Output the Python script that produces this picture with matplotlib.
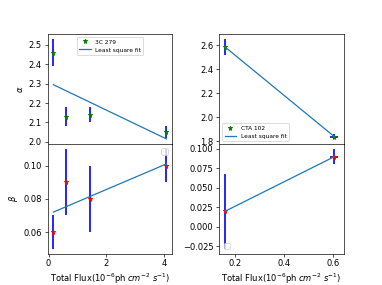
import matplotlib
matplotlib.use("Agg")
import matplotlib.pyplot as plt

# 3C 279
x_3c = [0.17, 0.62, 1.45, 4.09]
alpha_3c = [2.46, 2.13, 2.14, 2.05]
alpha_err_3c = [0.07, 0.05, 0.04, 0.03]
beta_3c = [0.06, 0.09, 0.08, 0.10]
beta_err_3c = [0.01, 0.02, 0.02, 0.01]
fit_x_3c = [0.17, 4.09]
fit_alpha_3c = [2.295, 2.015]
fit_beta_3c = [0.072, 0.101]

# CTA 102
x_cta = [0.16, 0.605]
x_err_cta = [0.0, 0.016]
alpha_cta = [2.585, 1.84]
alpha_err_cta = [0.065, 0.02]
beta_cta = [0.02, 0.09]
beta_err_cta = [0.048, 0.01]
fit_alpha_cta = [2.585, 1.84]
fit_beta_cta = [0.02, 0.09]

xlabel = r'Total Flux($10^{-6}$ph $cm^{-2}$ $s^{-1}$)'

fig, axes = plt.subplots(2, 2, sharex='col', figsize=(382/60, 285/60), dpi=60)
fig.subplots_adjust(hspace=0, wspace=0.38)

ax = axes[0, 0]
ax.errorbar(x_3c, alpha_3c, yerr=alpha_err_3c, fmt='none', ecolor='b', elinewidth=2)
ax.plot(x_3c, alpha_3c, 'g*', label='3C 279')
ax.plot(fit_x_3c, fit_alpha_3c, label='Least square fit')
ax.set_ylabel(r'$\alpha$')
ax.legend(loc='upper center', fontsize=7)

ax = axes[1, 0]
ax.errorbar(x_3c, beta_3c, yerr=beta_err_3c, fmt='none', ecolor='b', elinewidth=2)
ax.plot(x_3c, beta_3c, 'r*')
ax.plot(fit_x_3c, fit_beta_3c)
ax.set_ylabel(r'$\beta$')
ax.set_xlabel(xlabel)
ax.legend(handles=[], loc='upper right')

ax = axes[0, 1]
ax.errorbar(x_cta, alpha_cta, yerr=alpha_err_cta, xerr=x_err_cta, fmt='none', ecolor='b', elinewidth=2)
ax.plot(x_cta, alpha_cta, 'g*', label='CTA 102')
ax.plot(x_cta, fit_alpha_cta, label='Least square fit')
ax.legend(loc='lower left', fontsize=7)

ax = axes[1, 1]
ax.errorbar(x_cta, beta_cta, yerr=beta_err_cta, xerr=x_err_cta, fmt='none', ecolor='b', elinewidth=2)
ax.plot(x_cta, beta_cta, 'r*')
ax.plot(x_cta, fit_beta_cta)
ax.set_xlabel(xlabel)
ax.legend(handles=[], loc='lower left')

fig.savefig('out.png', dpi=60)
